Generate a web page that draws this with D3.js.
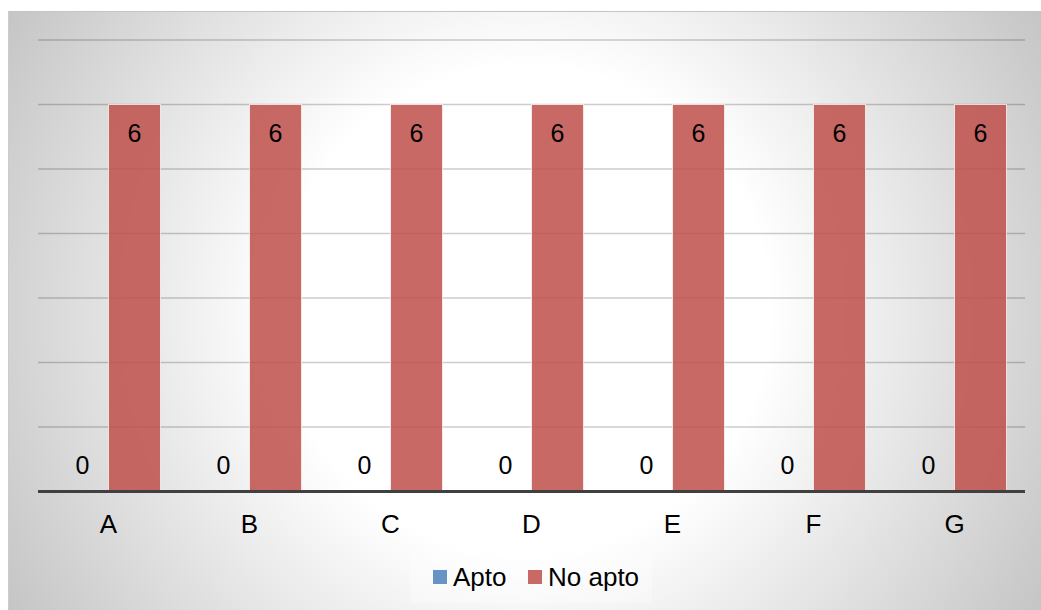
<!DOCTYPE html>
<html>
<head>
<meta charset="utf-8">
<script src="https://cdn.jsdelivr.net/npm/d3@7/dist/d3.min.js"></script>
<style>
  html, body { margin: 0; padding: 0; background: #ffffff; }
  svg { display: block; }
  text { font-family: "Liberation Sans", Arial, sans-serif; fill: #000; }
</style>
</head>
<body>
<svg id="chart" width="1041" height="610"></svg>
<script>
// Chart data
const categories = ["A", "B", "C", "D", "E", "F", "G"];
const seriesNames = ["Apto", "No apto"];
const aptoValues = [0, 0, 0, 0, 0, 0, 0];
const noAptoValues = [6, 6, 6, 6, 6, 6, 6];
const yTicks = [0, 1, 2, 3, 4, 5, 6, 7];
const seriesColors = ["#4f81bd", "#c0504d"];

const W = 1041, H = 610;
const frame = { x: 8, y: 11, w: W - 8, h: H - 11 };
const plot = { left: 38, right: 1025, top: 40, bottom: 491.5 };

const svg = d3.select("#chart");
const defs = svg.append("defs");

// Soft radial backdrop: white in the middle, grey towards the corners
const grad = defs.append("radialGradient")
  .attr("id", "bg")
  .attr("gradientUnits", "userSpaceOnUse")
  .attr("cx", 525).attr("cy", 310).attr("r", 610);
grad.append("stop").attr("offset", 0).attr("stop-color", "#ffffff");
grad.append("stop").attr("offset", 0.4).attr("stop-color", "#ffffff");
grad.append("stop").attr("offset", 1).attr("stop-color", "#c3c3c3");

svg.append("rect")
  .attr("x", frame.x).attr("y", frame.y)
  .attr("width", frame.w).attr("height", frame.h)
  .attr("fill", "url(#bg)");
svg.append("line")
  .attr("x1", frame.x).attr("x2", frame.x + frame.w)
  .attr("y1", frame.y + 0.5).attr("y2", frame.y + 0.5)
  .attr("stroke", "#c4c4c4").attr("stroke-width", 1);
svg.append("line")
  .attr("x1", frame.x + 0.5).attr("x2", frame.x + 0.5)
  .attr("y1", frame.y).attr("y2", frame.y + frame.h)
  .attr("stroke", "#cccccc").attr("stroke-width", 1);

// Scales
const x0 = d3.scaleBand()
  .domain(categories)
  .range([plot.left, plot.right])
  .paddingInner(37 / 141)
  .paddingOuter(37 / 141 / 2);
const x1 = d3.scaleBand()
  .domain(seriesNames)
  .range([0, x0.bandwidth()]);
const y = d3.scaleLinear()
  .domain([0, 7])
  .range([plot.bottom, plot.top]);

// Horizontal gridlines
svg.append("g")
  .selectAll("line")
  .data(yTicks.filter(t => t > 0))
  .join("line")
  .attr("x1", plot.left).attr("x2", plot.right)
  .attr("y1", d => y(d)).attr("y2", d => y(d))
  .attr("stroke", "rgba(0,0,0,0.2)")
  .attr("stroke-width", 1.5);

// Bars
const rows = categories.map((c, i) => ({
  cat: c,
  values: [
    { name: seriesNames[0], value: aptoValues[i], color: seriesColors[0] },
    { name: seriesNames[1], value: noAptoValues[i], color: seriesColors[1] }
  ]
}));

const groups = svg.append("g")
  .selectAll("g")
  .data(rows)
  .join("g")
  .attr("transform", d => `translate(${x0(d.cat)},0)`);

groups.selectAll("rect")
  .data(d => d.values)
  .join("rect")
  .attr("x", d => x1(d.name))
  .attr("y", d => y(d.value))
  .attr("width", x1.bandwidth())
  .attr("height", d => y(0) - y(d.value))
  .attr("fill", d => d.color)
  .attr("fill-opacity", 0.86)
  .attr("stroke", "rgba(255,255,255,0.7)")
  .attr("stroke-width", d => d.value > 0 ? 1 : 0);

// Value labels
groups.selectAll("text")
  .data(d => d.values)
  .join("text")
  .attr("x", d => x1(d.name) + x1.bandwidth() / 2)
  .attr("y", d => d.value > 0 ? y(d.value) + 37 : y(d.value) - 18)
  .attr("text-anchor", "middle")
  .attr("font-size", 25)
  .text(d => d.value);

// Category axis
svg.append("line")
  .attr("x1", plot.left).attr("x2", plot.right)
  .attr("y1", y(0)).attr("y2", y(0))
  .attr("stroke", "#404040")
  .attr("stroke-width", 3);

svg.append("g")
  .selectAll("text")
  .data(categories)
  .join("text")
  .attr("x", d => x0(d) + x0.bandwidth() / 2)
  .attr("y", 533)
  .attr("text-anchor", "middle")
  .attr("font-size", 26)
  .text(d => d);

// Legend
const legend = svg.append("g");
legend.append("rect")
  .attr("x", 410).attr("y", 555)
  .attr("width", 242).attr("height", 48)
  .attr("fill", "rgba(255,255,255,0.3)");
const legendItems = [
  { name: seriesNames[0], color: seriesColors[0], x: 433 },
  { name: seriesNames[1], color: seriesColors[1], x: 528 }
];
const li = legend.selectAll("g")
  .data(legendItems)
  .join("g")
  .attr("transform", d => `translate(${d.x},0)`);
li.append("rect")
  .attr("x", 0).attr("y", 570)
  .attr("width", 14).attr("height", 14)
  .attr("fill", d => d.color)
  .attr("fill-opacity", 0.86);
li.append("text")
  .attr("x", 20).attr("y", 586)
  .attr("font-size", 26)
  .text(d => d.name);
</script>
</body>
</html>
